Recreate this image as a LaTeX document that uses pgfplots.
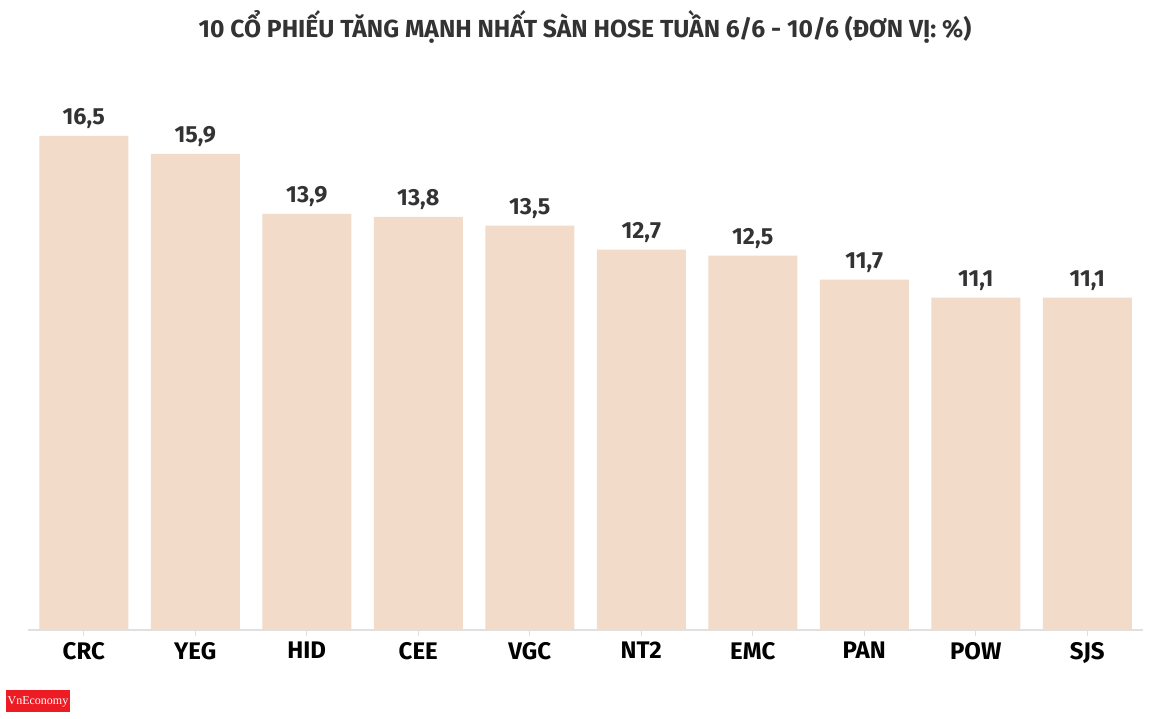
\documentclass[border=0pt]{standalone}
\usepackage{pgfplots}
\pgfplotsset{compat=1.18}
\usepackage{fontspec}
\setmainfont{Fira Sans}
\newfontfamily\logofont{Liberation Serif}
\definecolor{barc}{RGB}{242,219,200}
\definecolor{txt}{RGB}{51,51,51}
\definecolor{axc}{RGB}{224,224,224}
\definecolor{logored}{RGB}{237,28,36}
\begin{document}
\begin{tikzpicture}
\useasboundingbox (0,0) rectangle (872.25pt,538.5pt);
\fill[white] (0,0) rectangle (872.25pt,538.5pt);
\node[font=\bfseries\fontsize{18.5}{22}\selectfont, text=txt] at (438.75pt,518.25pt) {10 CỔ PHIẾU TĂNG MẠNH NHẤT SÀN HOSE TUẦN 6/6 - 10/6 (ĐƠN VỊ: \%)};
\begin{axis}[
  at={(21pt,66pt)}, anchor=south west,
  scale only axis, width=836.25pt, height=404.25pt,
  xmin=-0.5, xmax=9.5, ymin=0, ymax=18,
  axis x line*=bottom, axis y line=none,
  x axis line style={draw=axc, line width=1pt, -},
  xtick={0,...,9},
  xticklabels={CRC,YEG,HID,CEE,VGC,NT2,EMC,PAN,POW,SJS},
  xticklabel style={font=\bfseries\fontsize{18}{21}\selectfont, text=black, yshift=-1pt},
  tick align=outside, major tick length=4.5pt,
  xtick style={draw=axc, line width=1pt},
  ytick=\empty,
  ybar, bar width=66.75pt,
  nodes near coords,
  every node near coord/.append style={font=\bfseries\fontsize{17.5}{21}\selectfont, text=txt, yshift=2pt},
  /pgf/number format/.cd, use comma, fixed, fixed zerofill, precision=1, assume math mode=true,
]
\addplot[fill=barc, draw=none] coordinates {
(0,16.5) (1,15.9) (2,13.9) (3,13.8) (4,13.5) (5,12.7) (6,12.5) (7,11.7) (8,11.1) (9,11.1)
};
\end{axis}
\fill[logored] (4.5pt,4.5pt) rectangle (52.5pt,21pt);
\node[font=\logofont\fontsize{9}{10}\selectfont, text=white, inner sep=0pt] at (28.5pt,12pt) {VnEconomy};
\end{tikzpicture}
\end{document}
